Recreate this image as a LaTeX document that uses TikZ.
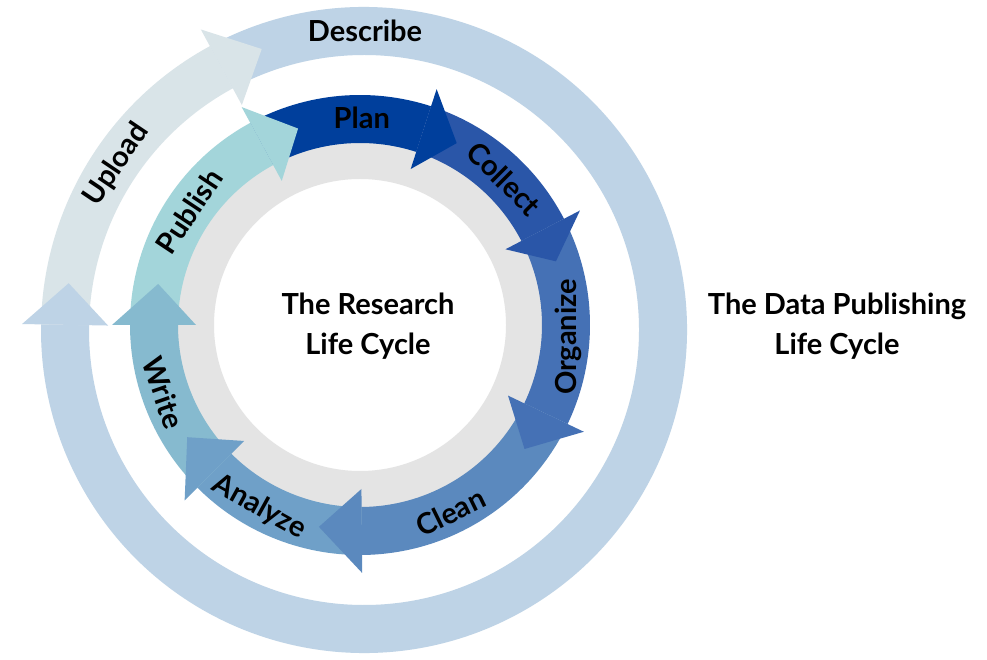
\documentclass[tikz,border=0pt]{standalone}
\usepackage{fontspec}
\setmainfont{Lato}
\usetikzlibrary{calc}
\definecolor{cDescribe}{HTML}{BED3E6}
\definecolor{cUpload}{HTML}{D9E4E8}
\definecolor{cPlan}{HTML}{003F9C}
\definecolor{cCollect}{HTML}{2A56A8}
\definecolor{cOrganize}{HTML}{4571B5}
\definecolor{cClean}{HTML}{5B89BE}
\definecolor{cAnalyze}{HTML}{6FA0C8}
\definecolor{cWrite}{HTML}{86BACF}
\definecolor{cPublish}{HTML}{A3D5DA}
\definecolor{cGrayRing}{HTML}{E4E4E4}
% band segment: center, R, r, start angle, end angle, colour
\newcommand\bandseg[6]{%
  \fill[#6] ([shift={(#1)}]#4:#2) arc[start angle=#4,end angle=#5,radius=#2]
    -- ([shift={(#1)}]#5:#3) arc[start angle=#5,end angle=#4,radius=#3] -- cycle;}
% arrow head: center, mid radius, half width, base angle, tip angle, colour
\newcommand\headtri[6]{%
  \pgfmathsetmacro\hdout{#2+#3}\pgfmathsetmacro\hdin{#2-#3}%
  \fill[#6] ([shift={(#1)}]#4:\hdout pt) -- ([shift={(#1)}]#5:#2pt)
    -- ([shift={(#1)}]#4:\hdin pt) -- cycle;}
\tikzset{
  lbl/.style={font=\fontsize{29}{35}\selectfont\bfseries, inner sep=0pt, text height=20.8pt, text depth=0pt},
  title/.style={font=\fontsize{29}{35}\selectfont\bfseries, inner sep=0pt, anchor=base}
}
\begin{document}
\begin{tikzpicture}
\useasboundingbox[fill=white] (0,0) rectangle (987pt,659pt);
% ---------- outer ring (center 364,329) ----------
\def\Co{364pt,329pt}
\bandseg{\Co}{323pt}{275pt}{118.5}{-181}{cDescribe}
\bandseg{\Co}{323pt}{275pt}{179}{118.5}{cUpload}
\headtri{\Co}{299}{43}{179}{171}{cDescribe}
\headtri{\Co}{299}{43}{118.5}{110}{cUpload}
% ---------- inner ring (center 360,334) ----------
\def\Ci{360pt,334pt}
\fill[cGrayRing, even odd rule] (\Ci) circle[radius=200pt] (\Ci) circle[radius=146pt];
\bandseg{\Ci}{230pt}{182pt}{118.5}{72}{cPlan}
\bandseg{\Ci}{230pt}{182pt}{72}{27.5}{cCollect}
\bandseg{\Ci}{230pt}{182pt}{27.5}{-25.5}{cOrganize}
\bandseg{\Ci}{230pt}{182pt}{-25.5}{-89.5}{cClean}
\bandseg{\Ci}{230pt}{182pt}{-89.5}{-135}{cAnalyze}
\bandseg{\Ci}{230pt}{182pt}{-135}{-180}{cWrite}
\bandseg{\Ci}{230pt}{182pt}{-180}{-241.5}{cPublish}
\headtri{\Ci}{206}{42}{72}{62}{cPlan}
\headtri{\Ci}{206}{42}{27.5}{18}{cCollect}
\headtri{\Ci}{206}{42}{-25.5}{-37}{cOrganize}
\headtri{\Ci}{206}{42}{-89.5}{-101.5}{cClean}
\headtri{\Ci}{206}{42}{-135}{-147}{cAnalyze}
\headtri{\Ci}{206}{42}{-180}{-191.5}{cWrite}
\headtri{\Ci}{206}{42}{-241.5}{-252.5}{cPublish}
% ---------- labels ----------
\node[lbl] (describe) at ([shift={(\Co)}]89.8:299pt) {Describe};
\node[lbl, rotate=56] (upload) at ([shift={(\Co)}]146.2:300pt) {Upload};
\node[lbl] (plan) at ([shift={(\Ci)}]89.5:207pt) {Plan};
\node[lbl, rotate=-45] (collect) at ([shift={(\Ci)}]45.4:205pt) {Collect};
\node[lbl, rotate=90] (organize) at ([shift={(\Ci)}]-3.3:206pt) {Organize};
\node[lbl, rotate=26] (clean) at ([shift={(\Ci)}]-64.2:208pt) {Clean};
\node[lbl, rotate=-29] (analyze) at ([shift={(\Ci)}]-119:206pt) {Analyze};
\node[lbl, rotate=-71] (write) at ([shift={(\Ci)}]-161:208pt) {Write};
\node[lbl, rotate=56.4] (publish) at ([shift={(\Ci)}]146.4:205pt) {Publish};
\node[title] (rlc1) at (368pt,344pt) {The Research};
\node[title] (rlc2) at (368pt,304pt) {Life Cycle};
\node[title] (dplc1) at (837pt,344pt) {The Data Publishing};
\node[title] (dplc2) at (837pt,304pt) {Life Cycle};
\end{tikzpicture}
\end{document}
